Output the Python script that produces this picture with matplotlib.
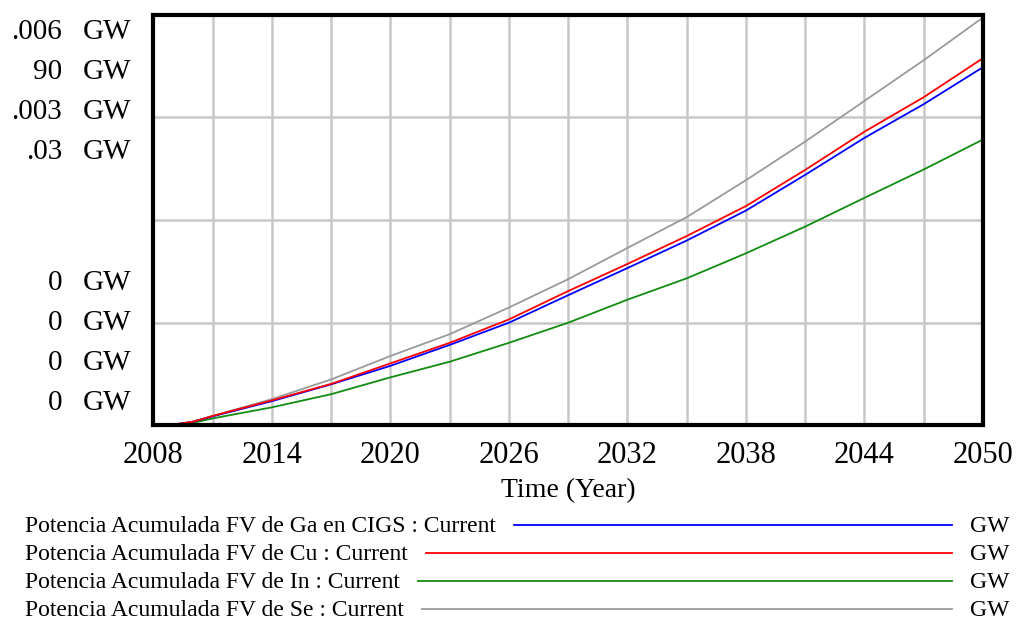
import matplotlib
matplotlib.use("Agg")
from matplotlib import pyplot as plt

# years
years = [2008, 2009, 2010, 2011, 2014, 2017, 2020, 2023, 2026, 2029, 2032, 2035, 2038, 2041, 2044, 2047, 2050]

# values as % of the plot height (each series has its own scale in the original)
ga_cigs = [0, 0.2, 0.9, 2.2, 5.9, 10.0, 14.5, 19.6, 25.0, 31.7, 38.3, 45.0, 52.3, 61.0, 70.0, 78.2, 87.2]
cu      = [0, 0.2, 0.9, 2.3, 6.1, 10.1, 15.1, 20.1, 25.8, 32.7, 39.3, 46.1, 53.4, 62.2, 71.5, 79.9, 89.4]
in_     = [0, 0.1, 0.6, 1.7, 4.4, 7.6, 11.7, 15.5, 20.1, 25.0, 30.6, 35.8, 41.9, 48.4, 55.4, 62.3, 69.6]
se      = [0, 0.2, 0.9, 2.3, 6.4, 11.2, 16.9, 22.2, 28.7, 35.6, 43.2, 50.7, 59.7, 69.1, 79.0, 88.9, 99.3]

series_names = [
    "Potencia Acumulada FV de Ga en CIGS : Current",
    "Potencia Acumulada FV de Cu : Current",
    "Potencia Acumulada FV de In : Current",
    "Potencia Acumulada FV de Se : Current",
]
series_colors = ["#0000ff", "#ff0000", "#118c11", "#9a9a9a"]

x_labels = ["2008", "", "2014", "", "2020", "", "2026", "", "2032", "", "2038", "", "2044", "", "2050"]
y_top_labels = [".006", "90", ".003", ".03"]
y_bottom_labels = ["0", "0", "0", "0"]
unit = "GW"

plt.rcParams["font.family"] = ["Liberation Serif", "DejaVu Serif"]

W, H = 1016, 619
fig = plt.figure(figsize=(W / 100, H / 100), dpi=100)
ax = fig.add_axes([153.4 / W, 1 - 425.4 / H, (983 - 153.4) / W, (425.4 - 14.6) / H])

data = [ga_cigs, cu, in_, se]
# grey first so the others sit on top, as in the picture
for idx in [3, 2, 0, 1]:
    ax.plot(years, data[idx], color=series_colors[idx], lw=1.3, zorder=3)

ax.set_xlim(2008, 2050)
ax.set_ylim(0, 100)
ax.set_xticks(range(2008, 2051, 3))
ax.set_xticklabels(x_labels, fontsize=22)
ax.set_yticks([0, 25, 50, 75, 100])
ax.set_yticklabels([])
ax.tick_params(length=0, pad=11)
ax.grid(True, color="#c8c8c8", lw=1.8, zorder=1)
for s in ax.spines.values():
    s.set_linewidth(3)
    s.set_zorder(4)
ax.set_xlabel("Time (Year)", fontsize=20, labelpad=6)

# stacked y labels, one per series scale
for i, lab in enumerate(y_top_labels):
    y = 1 - (32 + 40 * i) / H
    fig.text(62 / W, y, lab, ha="right", va="center", fontsize=21)
    fig.text(83 / W, y, unit, ha="left", va="center", fontsize=21)
for i, lab in enumerate(y_bottom_labels):
    y = 1 - (283 + 40 * i) / H
    fig.text(62 / W, y, lab, ha="right", va="center", fontsize=21)
    fig.text(83 / W, y, unit, ha="left", va="center", fontsize=21)

# legend rows
fig.canvas.draw()
renderer = fig.canvas.get_renderer()
for i, (name, col) in enumerate(zip(series_names, series_colors)):
    y = 1 - (526 + 28 * i) / H
    t = fig.text(25 / W, y, name, ha="left", va="center", fontsize=17)
    bb = t.get_window_extent(renderer)
    x0 = bb.x1 / W + 18 / W
    fig.add_artist(plt.Line2D([x0, 952 / W], [y + 1 / H, y + 1 / H], color=col, lw=1.3,
                              transform=fig.transFigure))
    fig.text(970 / W, y, unit, ha="left", va="center", fontsize=17)

fig.savefig("out.png", dpi=100)
